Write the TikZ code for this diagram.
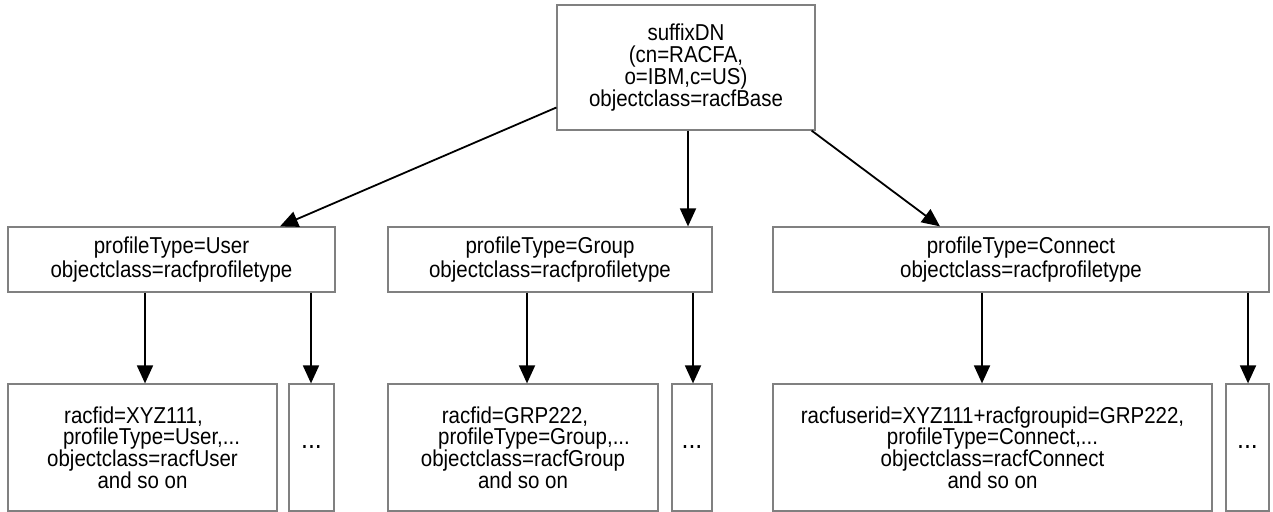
\documentclass[tikz,border=0pt]{standalone}
\usepackage{fontspec}
\setmainfont{Liberation Sans}[FakeStretch=0.89]
\usetikzlibrary{arrows.meta}
\begin{document}
\begin{tikzpicture}[x=0.5pt,y=-0.5pt,
  box/.style={draw=black!50, line width=0.6pt, fill=white, inner sep=0pt,
    align=center, font=\fontsize{11.5}{10.9}\selectfont},
  box2/.style={box, font=\fontsize{11.5}{12}\selectfont},
  dotbox/.style={box, font=\fontsize{14}{14}\selectfont},
  arr/.style={line width=0.9pt, -{Triangle[length=9pt,width=8pt]}}]
\useasboundingbox (0,0) rectangle (1273,512);
% top
\node[box, minimum width=129pt, minimum height=62.5pt] (top) at (686,67.5)
  {suffixDN\\(cn=RACFA,\\o=IBM,c=US)\\objectclass=racfBase};
% level 2
\node[box2, minimum width=163.5pt, minimum height=32.5pt] (usr) at (171.5,259.5)
  {profileType=User\\objectclass=racfprofiletype};
\node[box2, minimum width=162pt, minimum height=32.5pt] (grp) at (550,259.5)
  {profileType=Group\\objectclass=racfprofiletype};
\node[box2, minimum width=248pt, minimum height=32.5pt] (con) at (1021,259.5)
  {profileType=Connect\\objectclass=racfprofiletype};
% level 3
\node[box, minimum width=134.5pt, minimum height=63.5pt] (ud) at (142.5,447.5)
  {racfid=XYZ111,\rule{9pt}{0pt}\\\rule{9pt}{0pt}profileType=User,...\\objectclass=racfUser\\and so on};
\node[dotbox, minimum width=22.5pt, minimum height=63.5pt] (udots) at (311.5,447.5) {...};
\node[box, minimum width=135pt, minimum height=63.5pt] (gd) at (523,447.5)
  {racfid=GRP222,\rule{8pt}{0pt}\\\rule{11pt}{0pt}profileType=Group,...\\objectclass=racfGroup\\and so on};
\node[dotbox, minimum width=20pt, minimum height=63.5pt] (gdots) at (692,447.5) {...};
\node[box, minimum width=219.5pt, minimum height=63.5pt] (cd) at (992.5,447.5)
  {racfuserid=XYZ111+racfgroupid=GRP222,\\profileType=Connect,...\\objectclass=racfConnect\\and so on};
\node[dotbox, minimum width=21.5pt, minimum height=63.5pt] (cdots) at (1247.5,447.5) {...};
% x positions
\coordinate (lx) at (280,0);
\coordinate (gx) at (688,0);
\coordinate (rx) at (940,0);
\coordinate (ux) at (145,0);
\coordinate (udx) at (311,0);
\coordinate (g2x) at (527,0);
\coordinate (gdx) at (693,0);
\coordinate (cx) at (982,0);
\coordinate (cdx) at (1248,0);
% arrows
\draw[arr] ([yshift=-20pt]top.west) -- (usr.north -| lx);
\draw[arr] (top.south -| gx) -- (grp.north -| gx);
\draw[arr] ([xshift=-2pt]top.south east) -- (con.north -| rx);
\draw[arr] (usr.south -| ux) -- (ud.north -| ux);
\draw[arr] (usr.south -| udx) -- (udots.north -| udx);
\draw[arr] (grp.south -| g2x) -- (gd.north -| g2x);
\draw[arr] (grp.south -| gdx) -- (gdots.north -| gdx);
\draw[arr] (con.south -| cx) -- (cd.north -| cx);
\draw[arr] (con.south -| cdx) -- (cdots.north -| cdx);
\end{tikzpicture}
\end{document}
